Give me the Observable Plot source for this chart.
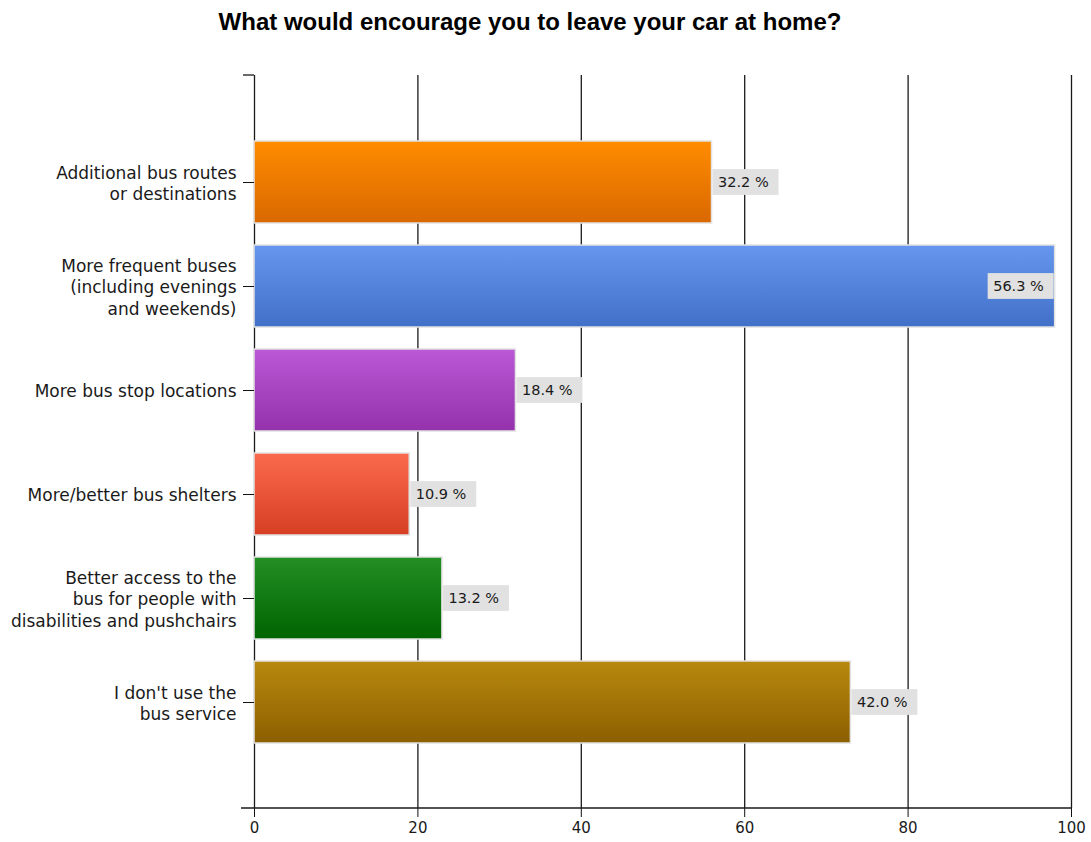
<!DOCTYPE html>
<html><head><meta charset="utf-8">
<script src="https://cdn.jsdelivr.net/npm/d3@7"></script>
<script src="https://cdn.jsdelivr.net/npm/@observablehq/plot@0.6"></script>
<style>
body{margin:0;background:#fff;}
#title{height:44px;width:1091px;box-sizing:border-box;padding-right:31px;padding-top:2px;text-align:center;font:bold 24px "Liberation Sans",Arial,sans-serif;line-height:40px;color:#000;}
</style></head><body>
<div id="title">What would encourage you to leave your car at home?</div>
<div id="chart"></div>
<script>
// ---- data ----
const categories = [
  "Additional bus routes\nor destinations",
  "More frequent buses\n(including evenings\nand weekends)",
  "More bus stop locations",
  "More/better bus shelters",
  "Better access to the\nbus for people with\ndisabilities and pushchairs",
  "I don't use the\nbus service"
];
const counts = [56, 98, 32, 19, 23, 73];
const percents = [32.2, 56.3, 18.4, 10.9, 13.2, 42.0];
const xTicks = [0, 20, 40, 60, 80, 100];

// ---- styles ----
const gradTop = ["#FF8C00", "#6696EE", "#BA58D6", "#FB6A4C", "#248F24", "#B8890E"];
const gradBottom = ["#D96800", "#4270C8", "#9432AC", "#D63F24", "#006400", "#8C5F00"];

const W = 1091, H = 798, mL = 254, mR = 20, mT = 31, mB = 34;
const padInner = 0.215, padOuter = 0.6075;
const step = (H - mT - mB) / (categories.length - padInner + 2 * padOuter);
const bandwidth = step * (1 - padInner);
const boxW = 66, boxH = 26;
const unitsPerPx = 100 / (W - mL - mR);

const rows = categories.map((c, i) => ({
  category: c, count: counts[i], pct: percents[i], grad: `url(#bar-grad-${i})`,
  label: `${percents[i].toFixed(1)} %`
}));
const fits = d => d.count + (boxW + 2) * unitsPerPx <= 100;
const outside = rows.filter(fits);
const inside = rows.filter(d => !fits(d));

const inset = (bandwidth - boxH) / 2;
const font = "'DejaVu Sans', sans-serif";

const chart = Plot.plot({
  width: W, height: H, marginLeft: mL, marginRight: mR, marginTop: mT, marginBottom: mB,
  style: {fontFamily: font, color: "#111", background: "#fff"},
  x: {domain: [0, 100]},
  y: {domain: categories, paddingInner: padInner, paddingOuter: padOuter},
  color: {type: "identity"},
  marks: [
    Plot.ruleX(xTicks, {stroke: "#1a1a1a", strokeWidth: 1.3}),
    Plot.barX(rows, {x: "count", y: "category", fill: "grad", stroke: "#e2e2e2", strokeWidth: 1.5}),
    Plot.barX(outside, {x1: d => d.count + 1 * unitsPerPx, x2: d => d.count + (boxW + 1) * unitsPerPx, y: "category",
      fill: "#e1e1e1", insetTop: inset, insetBottom: inset}),
    Plot.barX(inside, {x1: d => d.count - (boxW + 1) * unitsPerPx, x2: d => d.count - 1 * unitsPerPx, y: "category",
      fill: "#e1e1e1", insetTop: inset, insetBottom: inset}),
    Plot.text(outside, {x: "count", y: "category", text: "label", textAnchor: "start", dx: 6,
      fontSize: 14.5, fill: "#1a1a1a", fontFamily: font}),
    Plot.text(inside, {x: "count", y: "category", text: "label", textAnchor: "start", dx: -(boxW + 1) + 5,
      fontSize: 14.5, fill: "#1a1a1a", fontFamily: font}),
    Plot.axisY({tickSize: 11, tickPadding: 7, label: null, fontSize: 17, lineHeight: 1.25, stroke: "#111", fill: "#1a1a1a"}),
    Plot.axisX({ticks: xTicks, tickSize: 9, tickPadding: 5, label: null, fontSize: 15, stroke: "#111", fill: "#1a1a1a"})
  ]
});

// gradients
const svg = d3.select(chart);
const defs = svg.insert("defs", ":first-child");
gradTop.forEach((c, i) => {
  const g = defs.append("linearGradient").attr("id", `bar-grad-${i}`)
    .attr("x1", 0).attr("y1", 0).attr("x2", 0).attr("y2", 1);
  g.append("stop").attr("offset", "0%").attr("stop-color", c);
  g.append("stop").attr("offset", "100%").attr("stop-color", gradBottom[i]);
});
// bottom axis line (extends past the left axis) and top tick
svg.append("line").attr("x1", mL - 13).attr("x2", W - mR).attr("y1", H - mB).attr("y2", H - mB)
  .attr("stroke", "#1a1a1a").attr("stroke-width", 1.3);
svg.append("line").attr("x1", mL - 11).attr("x2", mL).attr("y1", mT).attr("y2", mT)
  .attr("stroke", "#1a1a1a").attr("stroke-width", 1.3);

document.getElementById("chart").append(chart);
</script>
</body></html>
